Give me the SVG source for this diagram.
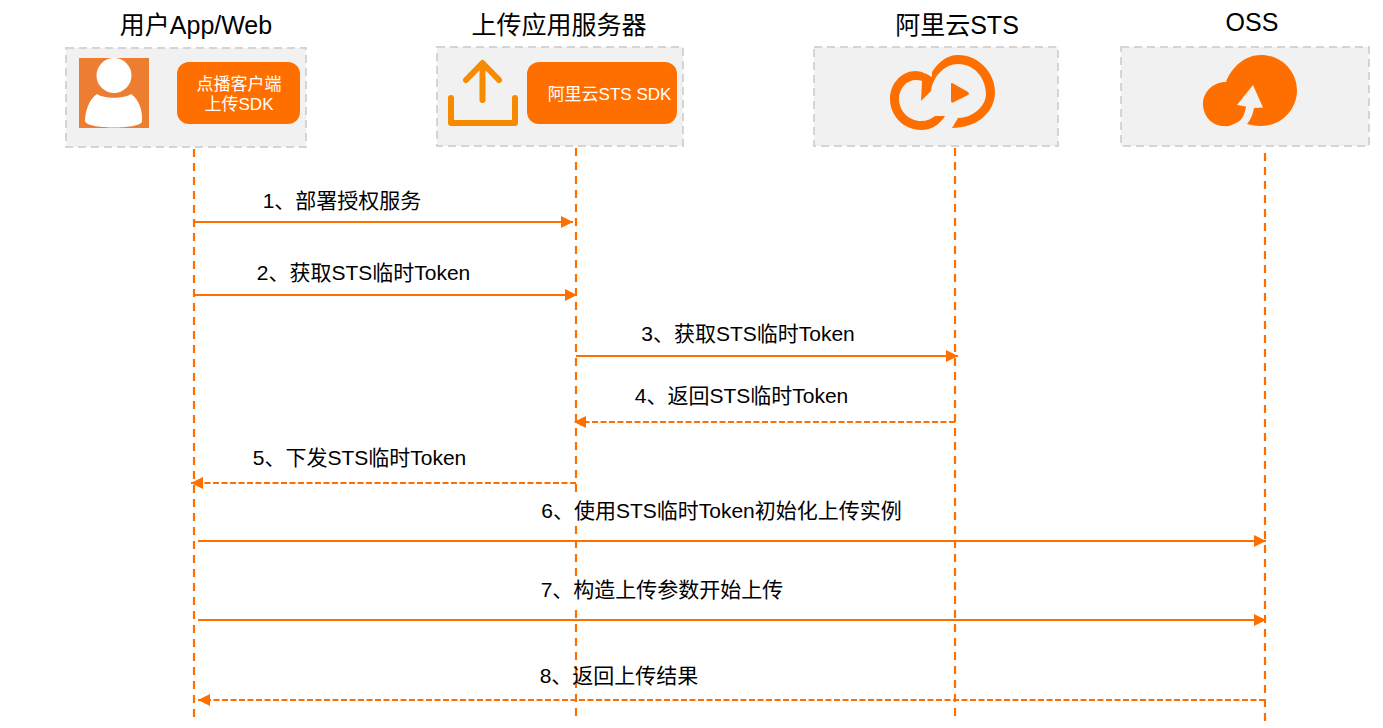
<svg xmlns="http://www.w3.org/2000/svg" width="1383" height="728" viewBox="0 0 1383 728">
<style>
text{font-family:"Liberation Sans","Noto Sans CJK SC",sans-serif;fill:#000}
.h{font-size:25px;text-anchor:middle}
.l{font-size:21px;text-anchor:middle}
.s{font-size:17px;fill:#fff;text-anchor:middle}
.box{fill:#f1f1f1;stroke:#d5d5d5;stroke-width:2;stroke-dasharray:8 5}
.sdk{fill:#ff6f00}
.life{fill:none;stroke:#ff6f00;stroke-width:2.200;stroke-dasharray:8 6}
.msg{fill:none;stroke:#ff6f00;stroke-width:2.200;marker-end:url(#a)}
.ret{stroke-dasharray:6 2.500}
</style>
<defs>
<marker id="a" markerUnits="userSpaceOnUse" markerWidth="13" markerHeight="13" refX="12" refY="6" orient="auto"><path d="M0 0L12 6L0 12Z" fill="#ff6f00"/></marker>
</defs>
<rect width="1383" height="728" fill="#fff"/>
<g id="connectors">
<path class="life" d="M194 149V717"/>
<path class="life" d="M576 148V717"/>
<path class="life" d="M955 148V717"/>
<path class="life" d="M1265 153V722"/>
<path class="msg" d="M194 222H573"/>
<path class="msg" d="M195 295H577"/>
<path class="msg" d="M576 356H958"/>
<path class="msg ret" d="M955 422H574"/>
<path class="msg ret" d="M576 483H191"/>
<path class="msg" d="M198 541H1266"/>
<path class="msg" d="M198 620H1266"/>
<path class="msg ret" d="M1265 700H198"/>
<rect x="500" y="496" width="410" height="28" fill="#fff"/>
<rect x="530" y="576" width="260" height="28" fill="#fff"/>
<text class="l" x="342" y="208">1、部署授权服务</text>
<text class="l" x="363.500" y="280">2、获取STS临时Token</text>
<text class="l" x="748" y="341">3、获取STS临时Token</text>
<text class="l" x="741.500" y="403">4、返回STS临时Token</text>
<text class="l" x="359.500" y="465">5、下发STS临时Token</text>
<text class="l" x="721.500" y="518">6、使用STS临时Token初始化上传实例</text>
<text class="l" x="662" y="597">7、构造上传参数开始上传</text>
<text class="l" x="619" y="683">8、返回上传结果</text>
</g>
<g id="node-user">
<rect class="box" x="66" y="48" width="240" height="99"/>
<rect x="79" y="58" width="70" height="70" fill="#ed7d31"/>
<circle cx="114" cy="75.500" r="17.500" fill="#fff"/>
<path d="M97 94C104 99 124 99 131 94C139 99 143 112 142 121C142 126 125 127.500 114 127.500C103 127.500 86 126 85 121C85 112 89 99 97 94Z" fill="#fff"/>
<rect class="sdk" x="177" y="62" width="123" height="62" rx="12"/>
<text class="s" x="239" y="90">点播客户端</text>
<text class="s" x="239" y="110">上传SDK</text>
<text class="h" x="196" y="34">用户App/Web</text>
</g>
<g id="node-server">
<rect class="box" x="437" y="47" width="246" height="99"/>
<path d="M451 98V123H515V98M482.500 100V64M466 80L482.500 63L499 80" fill="none" stroke="#f88a00" stroke-width="6" stroke-linecap="round" stroke-linejoin="round"/>
<rect class="sdk" x="527" y="62" width="150" height="62" rx="12"/>
<text class="s" x="609.500" y="100">阿里云STS SDK</text>
<text class="h" x="559" y="34">上传应用服务器</text>
</g>
<g id="node-sts">
<rect class="box" x="814" y="47" width="244" height="99"/>
<path d="M932 77C927 74 921 71 916 71C901 71 890 84 890 99C890 116 904 130 921 130C932 130 940 124 945 116H935C931 119 927 121 921 121C909 121 899 111 899 99C899 88 907 80 916 80C918 80 920 80 922 81L921 101L931 91C933 76 945 64 958 64C975 64 986 79 986 94C986 106 973 118 958 118L952 128C976 128 995 113 995 92C995 73 979 55 958 55C946 55 938 63 932 72Z" fill="#ff6f00"/>
<path d="M951 84Q951 82 954 84L968 92Q970 94 968 95L954 102Q951 104 951 101Z" fill="#ff6f00"/>
<text class="h" x="957" y="34">阿里云STS</text>
</g>
<g id="node-oss">
<rect class="box" x="1121" y="47" width="248" height="99"/>
<path d="M1226 82C1232 66 1246 55 1261 55C1281 55 1297 71 1297 90C1297 110 1281 126 1261 126C1256 126 1251 125 1247 124C1251 119 1253 114 1254 108L1263 107.500L1253 85L1237 105L1246 106.500C1245 113 1243 119 1238 122C1232 125 1228 127 1224 126C1212 126 1203 116 1203 104C1203 92 1213 82 1226 82Z" fill="#ff6f00"/>
<text class="h" x="1252" y="31">OSS</text>
</g>
</svg>
